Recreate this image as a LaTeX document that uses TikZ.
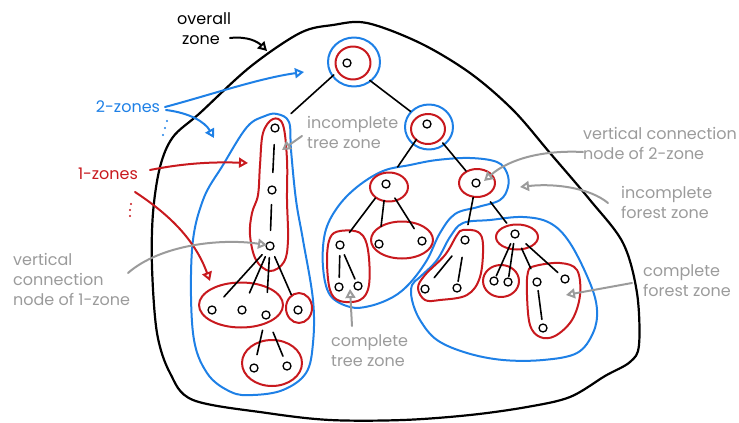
\documentclass[tikz,border=0pt]{standalone}
\usepackage{fontspec}
\setmainfont{Poppins}
\usetikzlibrary{arrows.meta,shapes.geometric}
\definecolor{zred}{RGB}{200,25,30}
\definecolor{zblue}{RGB}{30,128,230}
\definecolor{zgray}{RGB}{155,155,155}
\begin{document}
\begin{tikzpicture}[x=1pt,y=-1pt,line cap=round,line join=round,
  tn/.style={circle,draw,line width=1.3pt,inner sep=0pt,minimum size=8pt},
  rz/.style={draw=zred,line width=2pt},
  bz/.style={draw=zblue,line width=2pt},
  ko/.style={draw=black,line width=2.2pt},
  rell/.style={ellipse,draw=zred,line width=2pt,inner sep=0pt},
  bell/.style={ellipse,draw=zblue,line width=2pt,inner sep=0pt},
  tedge/.style={line width=1.6pt},
  lbl/.style={font=\fontsize{16}{20}\selectfont,align=left,anchor=north west,inner sep=0pt},
  tip/.style={-{Triangle[open,length=9pt,width=10pt]}},
  garr/.style={draw=zgray,line width=2pt,tip},
  barr/.style={draw=zblue,line width=2pt,tip},
  rarr/.style={draw=zred,line width=2pt,tip},
  karr/.style={draw=black,line width=2pt,tip}]
\useasboundingbox (0,0) rectangle (739,423);

% overall zone
\draw[ko] plot[smooth cycle,tension=0.55] coordinates {(367,23) (420,43) (470,73) (513,110) (550,153) (590,200) (623,243) (637,293) (639,345) (630,362) (605,376) (570,397) (527,407) (470,415) (403,420) (330,420) (267,413) (193,400) (170,373) (157,333) (152,267) (153,213) (160,167) (173,137) (200,113) (250,67) (300,33) (333,25)};

% 2-zones (blue)
\draw[bz] plot[smooth cycle,tension=0.6] coordinates {(277,114) (289,122) (291,150) (296,200) (303,240) (313,300) (313,343) (306,373) (283,390) (253,395) (231,392) (207,373) (193,333) (192,250) (203,200) (223,165) (247,127) (265,116)};
\draw[bz] plot[smooth cycle,tension=0.6] coordinates {(323,267) (325,233) (337,208) (357,187) (383,171) (410,165) (437,160) (470,158) (497,162) (507,173) (508,187) (500,200) (478,207) (455,214) (440,233) (427,260) (410,283) (393,297) (370,306) (350,307) (330,295)};
\draw[bz] plot[smooth cycle,tension=0.6] coordinates {(412,285) (420,277) (437,260) (450,237) (463,223) (490,220) (523,217) (550,223) (570,243) (590,283) (597,310) (593,333) (577,353) (543,360) (503,360) (467,353) (437,340) (420,320) (412,300)};

% tree nodes
\node[tn] (root) at (347,63) {};
\node[tn] (A) at (427,124) {};
\node[tn] (T1) at (275,128) {};
\node[tn] (T2) at (272,190) {};
\node[tn] (T3) at (270,246) {};
\node[tn] (L1) at (212,310) {};
\node[tn] (L2) at (242,310) {};
\node[tn] (L3) at (266,315) {};
\node[tn] (L4) at (298,310) {};
\node[tn] (M1) at (254,368) {};
\node[tn] (M2) at (287,366) {};
\node[tn] (B) at (386,184) {};
\node[tn] (F) at (340,245) {};
\node[tn] (F1) at (339,287) {};
\node[tn] (F2) at (358,286) {};
\node[tn] (G1) at (379,244) {};
\node[tn] (G2) at (422,241) {};
\node[tn] (C) at (476,183) {};
\node[tn] (D) at (465,240) {};
\node[tn] (D1) at (425,289) {};
\node[tn] (D2) at (457,288) {};
\node[tn] (E) at (515,234) {};
\node[tn] (E1) at (494,281) {};
\node[tn] (E2) at (508,282) {};
\node[tn] (H1) at (537,282) {};
\node[tn] (H2) at (565,279) {};
\node[tn] (H3) at (543,328) {};

% zone circles around single nodes
\node[rell,minimum width=35pt,minimum height=33pt] (rootR) at (353,63) {};
\node[bell,minimum width=52pt,minimum height=49pt] (rootB) at (354,62) {};
\node[rell,minimum width=34pt,minimum height=30pt] (AR) at (428,129) {};
\node[bell,minimum width=48pt,minimum height=45pt] (AB) at (429,127) {};
\node[rell,minimum width=38pt,minimum height=29pt] (BR) at (389,187) {};
\node[rell,minimum width=36pt,minimum height=28pt] (CR) at (477,183) {};
\node[rell,minimum width=62pt,minimum height=37pt] (GR) at (402,240) {};
\node[rell,minimum width=26pt,minimum height=30pt] (L4R) at (299,308) {};
\node[rell,minimum width=84pt,minimum height=45pt] (LR) at (241,305) {};
\node[rell,minimum width=60pt,minimum height=46pt] (MR) at (272,363) {};
\node[rell,minimum width=42pt,minimum height=25pt] (ER) at (517,237) {};
\node[rell,minimum width=36pt,minimum height=32pt] (E12R) at (501,281) {};

% red free-form 1-zones
\draw[rz] plot[smooth cycle,tension=0.6] coordinates {(273,119) (283,125) (287,160) (287,200) (288,240) (284,262) (270,271) (256,260) (250,235) (252,213) (258,195) (260,165) (263,133)};
\draw[rz] plot[smooth cycle,tension=0.6] coordinates {(340,231) (360,233) (368,250) (369,285) (360,300) (340,301) (330,290) (327,260) (330,238)};
\draw[rz] plot[smooth cycle,tension=0.6] coordinates {(463,230) (478,232) (483,245) (480,277) (467,295) (440,300) (425,300) (418,288) (425,275) (445,255) (457,235)};
\draw[rz] plot[smooth cycle,tension=0.6] coordinates {(535,266) (560,263) (577,270) (580,295) (572,320) (555,336) (540,337) (530,325) (527,295) (528,272)};

% tree edges
\draw[tedge,shorten <=13pt,shorten >=17pt] (root) -- (T1);
\draw[tedge,shorten <=24pt,shorten >=16pt] (root) -- (A);
\draw[tedge,shorten <=14pt,shorten >=16pt] (A) -- (B);
\draw[tedge,shorten <=20pt,shorten >=11pt] (A) -- (C);
\draw[tedge,shorten <=12pt,shorten >=13pt] (T1) -- (T2);
\draw[tedge,shorten <=10pt,shorten >=11pt] (T2) -- (T3);
\draw[tedge,shorten <=7pt,shorten >=13pt] (T3) -- (L1);
\draw[tedge,shorten <=7pt,shorten >=14pt] (T3) -- (L2);
\draw[tedge,shorten <=7pt,shorten >=18pt] (T3) -- (L3);
\draw[tedge,shorten <=7pt,shorten >=12pt] (T3) -- (L4);
\draw[tedge,shorten <=11pt,shorten >=9pt] (L3) -- (M1);
\draw[tedge,shorten <=14pt,shorten >=6pt] (L3) -- (M2);
\draw[tedge,shorten <=13pt,shorten >=11pt] (B) -- (F);
\draw[tedge,shorten <=12pt,shorten >=13pt] (B) -- (G1);
\draw[tedge,shorten <=12pt,shorten >=10pt] (B) -- (G2);
\draw[tedge,shorten <=6pt,shorten >=5pt] (F) -- (F1);
\draw[tedge,shorten <=6pt,shorten >=3pt] (F) -- (F2);
\draw[tedge,shorten <=10pt,shorten >=11pt] (C) -- (D);
\draw[tedge,shorten <=19pt,shorten >=9pt] (C) -- (E);
\draw[tedge,shorten <=16pt,shorten >=10pt] (D) -- (D1);
\draw[tedge,shorten <=13pt,shorten >=2pt] (D) -- (D2);
\draw[tedge,shorten <=6pt,shorten >=1pt] (E) -- (E1);
\draw[tedge,shorten <=5pt,shorten >=1pt] (E) -- (E2);
\draw[tedge,shorten <=11pt,shorten >=10pt] (E) -- (H1);
\draw[tedge,shorten <=10pt,shorten >=5pt] (E) -- (H2);
\draw[tedge,shorten <=4pt,shorten >=4pt] (H1) -- (H3);

% labels
\node[lbl] (tover) at (177,12) {overall\\\hspace*{5pt}zone};
\node[lbl,text=zblue,anchor=center] (t2z) at (128,107) {2-zones};
\node[lbl,text=zred,anchor=center] (t1z) at (108,174) {1-zones};
\node[lbl,text=zgray] (tit) at (307,116) {incomplete\\tree zone};
\node[lbl,text=zgray] (tvc1) at (13,253) {vertical\\connection\\node of 1-zone};
\node[lbl,text=zgray] (tvc2) at (583,127) {vertical connection\\node of 2-zone};
\node[lbl,text=zgray] (tif) at (621,186) {incomplete\\forest zone};
\node[lbl,text=zgray] (tcf) at (643,264) {complete\\forest zone};
\node[lbl,text=zgray] (tct) at (331,334) {complete\\tree zone};

% arrow coordinates
\coordinate (ov0) at (230,38);  \coordinate (ov1) at (267,51);
\coordinate (b0) at (165,107);  \coordinate (b1) at (304,72);
\coordinate (b2) at (166,110);  \coordinate (b3) at (214,138);
\coordinate (r0) at (150,170);  \coordinate (r1) at (248,163);
\coordinate (r2) at (135,192);  \coordinate (r3) at (210,281);
\coordinate (g0) at (302,136);  \coordinate (g1) at (282,150);
\coordinate (g2) at (128,273);  \coordinate (g3) at (267,245);
\coordinate (g4) at (583,152);  \coordinate (g5) at (484,181);
\coordinate (g6) at (608,203);  \coordinate (g7) at (520,187);
\coordinate (g8) at (632,283);  \coordinate (g9) at (566,295);
\coordinate (g10) at (352,326); \coordinate (g11) at (350,289);

\draw[karr] (ov0) .. controls (248,36) and (258,42) .. (ov1);
\draw[barr] (b0) .. controls (210,95) and (260,78) .. (b1);
\draw[barr] (b2) .. controls (190,113) and (205,122) .. (b3);
\draw[rarr] (r0) .. controls (190,162) and (220,162) .. (r1);
\draw[rarr] (r2) .. controls (170,215) and (195,240) .. (r3);
\draw[garr] (g0) -- (g1);
\draw[garr] (g2) .. controls (160,245) and (220,238) .. (g3);
\draw[garr] (g4) .. controls (545,150) and (510,158) .. (g5);
\draw[garr] (g6) .. controls (590,188) and (555,183) .. (g7);
\draw[garr] (g8) -- (g9);
\draw[garr] (g10) -- (g11);

% ellipsis dots
\foreach \p in {(167,121),(165,128),(163,135)} \fill[zblue] \p circle (1.1pt);
\foreach \p in {(131,204),(130,210),(130,216)} \fill[zred] \p circle (1.1pt);
\end{tikzpicture}
\end{document}
